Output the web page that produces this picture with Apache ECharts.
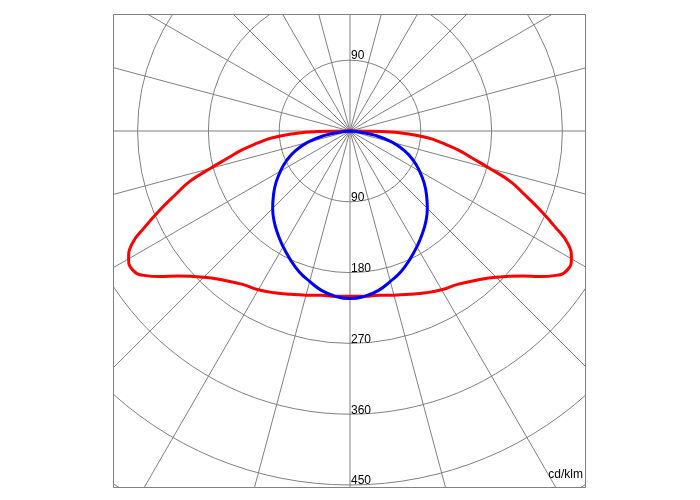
<!DOCTYPE html>
<html><head><meta charset="utf-8">
<script src="https://cdn.jsdelivr.net/npm/echarts@6/dist/echarts.min.js"></script>
<style>html,body{margin:0;padding:0;background:#fff}#c{width:700px;height:500px}</style>
</head><body><div id="c"></div>
<script>
// gamma angles (deg from nadir) and intensities (cd/klm)
const redGamma = [0,5,10,15,20,25,30,35,40,45,50,52.5,55,57.5,60,62.5,65,67.5,70,72.5,75,77.5,80,82.5,85,87.5,89,90];
const redValues = [210,211,212,216,221,227,233,238,248,263,287,304,320,328,325,313,287,261,236,214,184,159,140,119,99,70,42,0];
const blueGamma = [0,5,10,15,20,25,30,35,40,45,50,55,60,65,70,75,80,85,90];
const blueValues = [213,211,206,198,190,180,170,160,150,139,127,115,102,89,74,56,34,10,0];
const ringLabelsDown = [90,180,270,360,450];
const ringLabelsUp = [90];
const unitLabel = 'cd/klm';

function fullCurve(g, v) {
  const out = [];
  for (let i = g.length - 1; i > 0; i--) out.push([v[i], 360 - g[i]]);
  for (let i = 0; i < g.length; i++) out.push([v[i], g[i]]);
  return out;
}

const GRAY = '#808080';
const FONT = 'Liberation Sans, Arial, sans-serif';
const center = [350, 131];
const R = 424.8;
const chart = echarts.init(document.getElementById('c'));
chart.setOption({
  animation: false,
  title: {text: unitLabel, right: 112, bottom: 14, textStyle: {fontSize: 12, fontWeight: 'normal', color: '#000', fontFamily: FONT}},
  polar: [{center: center, radius: R}, {center: center, radius: R}],
  angleAxis: [
    {polarIndex: 0, type: 'value', min: 0, max: 360, interval: 15, startAngle: 270, clockwise: true,
     axisLine: {show: false}, axisTick: {show: false}, axisLabel: {show: false},
     splitLine: {show: true, lineStyle: {color: GRAY, width: 1}}},
    {polarIndex: 1, type: 'value', min: 0, max: 360, interval: 15, startAngle: 90, clockwise: true,
     axisLine: {show: false}, axisTick: {show: false}, axisLabel: {show: false}, splitLine: {show: false}}
  ],
  radiusAxis: [
    {polarIndex: 0, type: 'value', min: 0, max: 540, interval: 90,
     axisLine: {show: false}, axisTick: {show: false},
     splitLine: {show: true, lineStyle: {color: GRAY, width: 1}},
     axisLabel: {show: true, color: '#000', fontSize: 12, fontFamily: FONT, margin: 1, lineHeight: 8,
       align: 'left', verticalAlign: 'bottom',
       formatter: v => ringLabelsDown.indexOf(v) >= 0 ? String(v) : ''}},
    {polarIndex: 1, type: 'value', min: 0, max: 540, interval: 90,
     axisLine: {show: false}, axisTick: {show: false}, splitLine: {show: false},
     axisLabel: {show: true, color: '#000', fontSize: 12, fontFamily: FONT, margin: -1, lineHeight: 10,
       align: 'left', verticalAlign: 'bottom',
       formatter: v => ringLabelsUp.indexOf(v) >= 0 ? String(v) : ''}}
  ],
  series: [
    {type: 'line', coordinateSystem: 'polar', polarIndex: 0, data: fullCurve(redGamma, redValues),
     showSymbol: false, smooth: 0.5, lineStyle: {color: '#ff0000', width: 3}, z: 3},
    {type: 'line', coordinateSystem: 'polar', polarIndex: 0, data: fullCurve(blueGamma, blueValues),
     showSymbol: false, smooth: 0.5, lineStyle: {color: '#0000ff', width: 3}, z: 4}
  ],
  graphic: [
    {type: 'rect', z: 100, shape: {x: 0, y: 0, width: 113.5, height: 500}, style: {fill: '#fff'}},
    {type: 'rect', z: 100, shape: {x: 585.5, y: 0, width: 115, height: 500}, style: {fill: '#fff'}},
    {type: 'rect', z: 100, shape: {x: 0, y: 0, width: 700, height: 14.5}, style: {fill: '#fff'}},
    {type: 'rect', z: 100, shape: {x: 0, y: 487.5, width: 700, height: 13}, style: {fill: '#fff'}},
    {type: 'rect', z: 101, shape: {x: 113.5, y: 14.5, width: 472, height: 473}, style: {fill: 'none', stroke: GRAY, lineWidth: 1}}
  ]
});
</script></body></html>
